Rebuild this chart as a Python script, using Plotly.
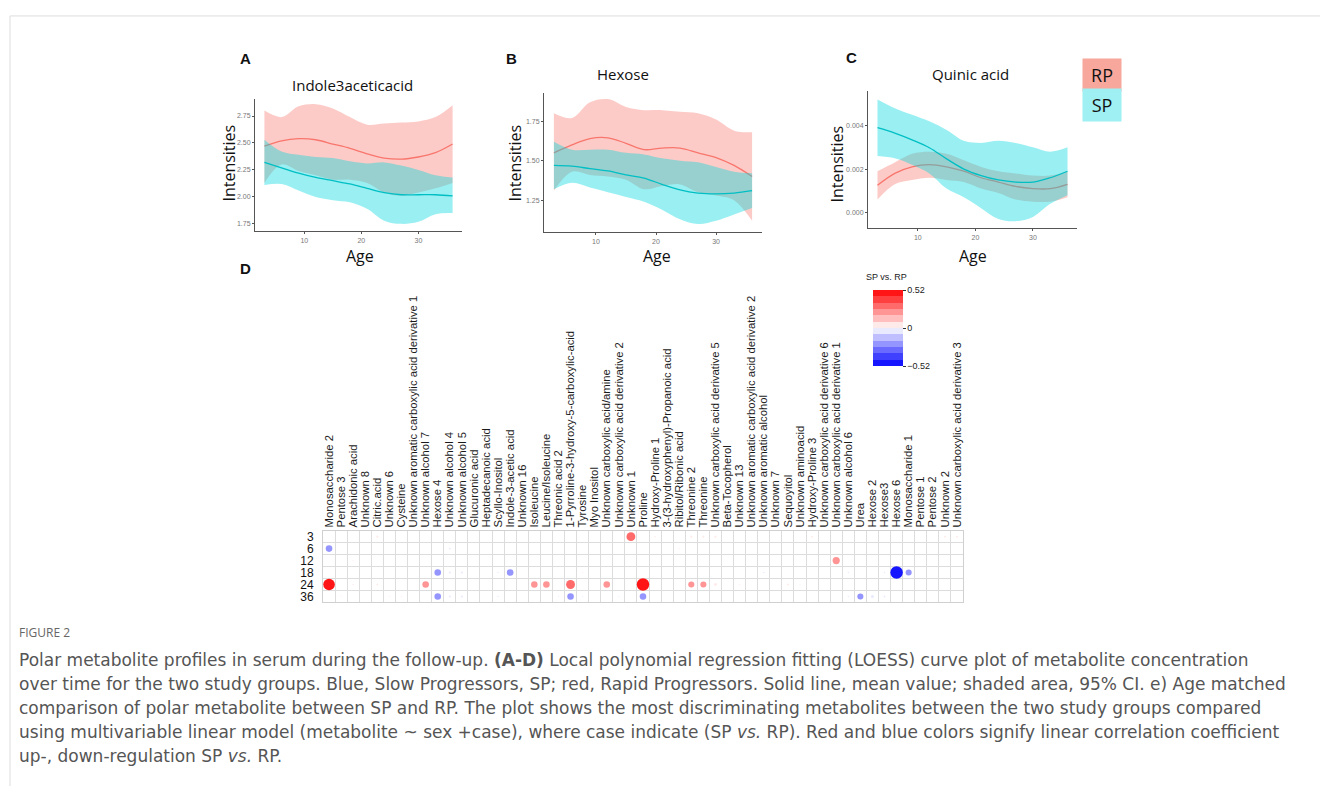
import plotly.graph_objects as go

W, H = 1320, 787
def fx(p): return p / W
def fy(p): return 1 - p / H

# ---------------- Data: LOESS curves (panels A-C) ----------------
age = [3, 6, 9, 12, 15, 18, 21, 24, 27, 30, 33, 36]

iaa_rp_mean  = [2.47, 2.52, 2.54, 2.53, 2.49, 2.45, 2.40, 2.36, 2.35, 2.37, 2.41, 2.49]
iaa_rp_upper = [2.80, 2.74, 2.84, 2.86, 2.82, 2.74, 2.67, 2.68, 2.69, 2.70, 2.74, 2.85]
iaa_rp_lower = [2.13, 2.30, 2.24, 2.20, 2.16, 2.16, 2.13, 2.04, 2.01, 2.04, 2.08, 2.13]
iaa_sp_mean  = [2.32, 2.27, 2.22, 2.18, 2.15, 2.12, 2.08, 2.04, 2.02, 2.02, 2.02, 2.01]
iaa_sp_upper = [2.53, 2.42, 2.39, 2.37, 2.36, 2.33, 2.31, 2.32, 2.29, 2.25, 2.20, 2.18]
iaa_sp_lower = [2.11, 2.12, 2.06, 2.00, 1.97, 1.95, 1.89, 1.78, 1.75, 1.77, 1.84, 1.85]

hex_rp_mean  = [1.55, 1.60, 1.64, 1.645, 1.61, 1.57, 1.58, 1.58, 1.55, 1.52, 1.47, 1.40]
hex_rp_upper = [1.80, 1.77, 1.87, 1.89, 1.84, 1.82, 1.82, 1.81, 1.80, 1.76, 1.69, 1.68]
hex_rp_lower = [1.31, 1.43, 1.41, 1.40, 1.38, 1.32, 1.34, 1.35, 1.30, 1.28, 1.25, 1.12]
hex_sp_mean  = [1.47, 1.465, 1.45, 1.435, 1.41, 1.39, 1.35, 1.315, 1.295, 1.29, 1.295, 1.31]
hex_sp_upper = [1.62, 1.57, 1.57, 1.57, 1.55, 1.54, 1.515, 1.50, 1.49, 1.46, 1.43, 1.42]
hex_sp_lower = [1.32, 1.36, 1.33, 1.30, 1.27, 1.24, 1.19, 1.13, 1.10, 1.12, 1.16, 1.20]

qa_rp_mean  = [0.00125, 0.0018, 0.0021, 0.0022, 0.0021, 0.0019, 0.0016, 0.0014, 0.0012, 0.0011, 0.0011, 0.0013]
qa_rp_upper = [0.0019, 0.0023, 0.0027, 0.0028, 0.0027, 0.0024, 0.0021, 0.0019, 0.0018, 0.0017, 0.0017, 0.0019]
qa_rp_lower = [0.0006, 0.0013, 0.0015, 0.0016, 0.0015, 0.0014, 0.0011, 0.0009, 0.0006, 0.0005, 0.0005, 0.0007]
qa_sp_mean  = [0.0039, 0.00365, 0.00334, 0.00298, 0.00247, 0.0020, 0.0017, 0.0015, 0.0014, 0.0014, 0.0016, 0.0019]
qa_sp_upper = [0.0052, 0.0048, 0.0045, 0.0042, 0.0038, 0.0033, 0.0032, 0.0033, 0.0032, 0.0030, 0.0028, 0.0030]
qa_sp_lower = [0.0026, 0.0025, 0.0022, 0.0018, 0.0011, 0.0007, 0.0002, -0.0003, -0.0004, -0.0002, 0.0004, 0.0008]

# ---------------- Data: panel D ----------------
metabolites = [
    "Monosaccharide 2", "Pentose 3", "Arachidonic acid", "Unknown 8", "Citric.acid",
    "Unknown 6", "Cysteine", "Unknown aromatic carboxylic acid derivative 1",
    "Unknown alcohol 7", "Hexose 4", "Unknown alcohol 4", "Unknown alcohol 5",
    "Glucuronic acid", "Heptadecanoic acid", "Scyllo-Inositol", "Indole-3-acetic acid",
    "Unknown 16", "Isoleucine", "Leucine/Isoleucine", "Threonic acid 2",
    "1-Pyrroline-3-hydroxy-5-carboxylic-acid", "Tyrosine", "Myo Inositol",
    "Unknown carboxylic acid/amine", "Unknown carboxylic acid derivative 2", "Unknown 1",
    "Proline", "Hydroxy-Proline 1", "3-(3-hydroxyphenyl)-Propanoic acid",
    "Ribitol/Ribonic acid", "Threonine 2", "Threonine",
    "Unknown carboxylic acid derivative 5", "Beta-Tocopherol", "Unknown 13",
    "Unknown aromatic carboxylic acid derivative 2", "Unknown aromatic alcohol",
    "Unknown 7", "Sequoyitol", "Unknown aminoacid", "Hydroxy-Proline 3",
    "Unknown carboxylic acid derivative 6", "Unknown carboxylic acid derivative 1",
    "Unknown alcohol 6", "Urea", "Hexose 2", "Hexose3", "Hexose 6", "Monosaccharide 1",
    "Pentose 1", "Pentose 2", "Unknown 2", "Unknown carboxylic acid derivative 3",
]
ages_d = ["3", "6", "12", "18", "24", "36"]

# coefficient per metabolite (1-based column -> value), absent = not shown
coef_3  = {5: 0.05, 26: 0.33, 28: 0.03, 31: 0.05, 32: 0.05, 33: 0.05, 41: 0.04, 52: 0.04, 53: 0.04}
coef_6  = {1: -0.22, 11: -0.04, 30: 0.02}
coef_12 = {3: 0.02, 43: 0.25}
coef_18 = {10: -0.22, 11: -0.05, 12: -0.05, 15: -0.03, 16: -0.22, 22: 0.02, 37: -0.03,
           44: -0.03, 47: -0.03, 48: -0.52, 49: -0.2}
coef_24 = {1: 0.47, 3: 0.03, 5: 0.04, 9: 0.22, 18: 0.22, 19: 0.22, 21: 0.33, 24: 0.22,
           27: 0.52, 31: 0.2, 32: 0.2, 33: 0.07, 35: 0.02, 39: 0.04, 40: 0.02}
coef_36 = {2: 0.02, 6: 0.02, 7: 0.02, 10: -0.22, 11: -0.05, 12: -0.05, 15: -0.03, 20: -0.02,
           21: -0.22, 22: -0.02, 25: -0.02, 27: -0.22, 44: -0.03, 45: -0.2, 46: -0.08, 47: -0.04}
coef_rows = [coef_3, coef_6, coef_12, coef_18, coef_24, coef_36]
cmax = 0.52

# ---------------- Styles ----------------
RP_LINE, SP_LINE = "#F8766D", "#00BFC4"
RP_FILL, SP_FILL = "rgba(248,118,109,0.38)", "rgba(0,214,220,0.40)"

fig = go.Figure()

panels = [
    dict(ax="", rp=(iaa_rp_lower, iaa_rp_upper, iaa_rp_mean), sp=(iaa_sp_lower, iaa_sp_upper, iaa_sp_mean),
         xd=(255, 462), yd=(98, 231), yr=[1.68, 2.91], tv=[1.75, 2.0, 2.25, 2.5, 2.75],
         tt=["1.75", "2.00", "2.25", "2.50", "2.75"]),
    dict(ax="2", rp=(hex_rp_lower, hex_rp_upper, hex_rp_mean), sp=(hex_sp_lower, hex_sp_upper, hex_sp_mean),
         xd=(544, 762), yd=(92, 232), yr=[1.046, 1.93], tv=[1.25, 1.5, 1.75],
         tt=["1.25", "1.50", "1.75"]),
    dict(ax="3", rp=(qa_rp_lower, qa_rp_upper, qa_rp_mean), sp=(qa_sp_lower, qa_sp_upper, qa_sp_mean),
         xd=(868, 1077), yd=(90, 228), yr=[-0.00073, 0.0056], tv=[0.0, 0.002, 0.004],
         tt=["0.000", "0.002", "0.004"]),
]

for p in panels:
    xa, ya = "x" + p["ax"], "y" + p["ax"]
    for (lo, up, mn), lc, fc in [(p["rp"], RP_LINE, RP_FILL), (p["sp"], SP_LINE, SP_FILL)]:
        fig.add_trace(go.Scatter(x=age, y=lo, mode="lines", line=dict(width=0, shape="spline"),
                                 xaxis=xa, yaxis=ya, showlegend=False, hoverinfo="skip"))
        fig.add_trace(go.Scatter(x=age, y=up, mode="lines", line=dict(width=0, shape="spline"),
                                 fill="tonexty", fillcolor=fc,
                                 xaxis=xa, yaxis=ya, showlegend=False, hoverinfo="skip"))
        fig.add_trace(go.Scatter(x=age, y=mn, mode="lines", line=dict(width=1.3, color=lc, shape="spline"),
                                 xaxis=xa, yaxis=ya, showlegend=False))
    axcommon = dict(showline=True, linecolor="#555", linewidth=1, ticks="outside", ticklen=2,
                    tickcolor="#555", tickfont=dict(size=7, color="#777", family="Liberation Sans"),
                    showgrid=False, zeroline=False)
    fig.update_layout(**{
        "xaxis" + p["ax"]: dict(domain=[fx(p["xd"][0]), fx(p["xd"][1])], anchor=ya,
                                range=[1.35, 37.65], tickvals=[10, 20, 30], **axcommon),
        "yaxis" + p["ax"]: dict(domain=[fy(p["yd"][1]), fy(p["yd"][0])], anchor=xa,
                                range=p["yr"], tickvals=p["tv"], ticktext=p["tt"], **axcommon),
    })

# ---------------- Panel D: dot matrix ----------------
bx, by = [], []
for a in ages_d:
    for m in metabolites:
        bx.append(m); by.append(a)
fig.add_trace(go.Scatter(x=bx, y=by, mode="markers", marker=dict(size=1, opacity=0),
                         xaxis="x4", yaxis="y4", showlegend=False, hoverinfo="skip"))

dx, dy, dv = [], [], []
for a, row in zip(ages_d, coef_rows):
    for col, v in row.items():
        dx.append(metabolites[col - 1]); dy.append(a); dv.append(v)
dsize = [12.5 * (abs(v) / cmax) ** 0.75 for v in dv]

nb = 12
def band_color(f):
    if f >= 0:
        c = int(round(255 * (1 - f)))
        return f"rgb(255,{c},{c})"
    c = int(round(255 * (1 + f)))
    return f"rgb({c},{c},255)"
cscale = []
for i in range(nb):
    lo, hi = i / nb, (i + 1) / nb
    center = (lo + hi) - 1
    col = band_color(center)
    cscale.append([lo, col]); cscale.append([hi, col])

fig.add_trace(go.Scatter(
    x=dx, y=dy, mode="markers", xaxis="x4", yaxis="y4", showlegend=False,
    marker=dict(size=dsize, color=dv, colorscale=cscale, cmin=-cmax, cmax=cmax,
                line=dict(width=0), opacity=1,
                colorbar=dict(x=fx(873), xanchor="left", y=fy(366), yanchor="bottom",
                              len=76, lenmode="pixels", thickness=30, thicknessmode="pixels",
                              xpad=0, ypad=0, outlinewidth=0,
                              tickvals=[-cmax, 0, cmax], ticktext=["\u22120.52", "0", "0.52"],
                              ticks="outside", ticklen=3, tickcolor="#333",
                              tickfont=dict(size=9, color="#222", family="Liberation Sans"))),
    hovertemplate="%{x}<br>Age %{y}<br>%{marker.color}<extra></extra>",
))

fig.update_layout(
    xaxis4=dict(domain=[fx(323), fx(963)], anchor="y4", type="category", side="top",
                categoryorder="array", categoryarray=metabolites,
                range=[-0.5, len(metabolites) - 0.5], autorange=False,
                tickmode="array", tickvals=metabolites, ticktext=metabolites,
                tickson="boundaries", tickangle=-90, ticks="", showgrid=True,
                gridcolor="#DCDCDC", gridwidth=1,
                showline=True, mirror=True, linecolor="#D0D0D0", zeroline=False,
                tickfont=dict(size=11.3, color="#1a1a1a", family="Liberation Sans")),
    yaxis4=dict(domain=[fy(603), fy(531)], anchor="x4", type="category",
                categoryorder="array", categoryarray=ages_d,
                range=[len(ages_d) - 0.5, -0.5], autorange=False,
                tickmode="array", tickvals=ages_d, ticktext=ages_d,
                tickson="boundaries", ticks="", showgrid=True, gridcolor="#DCDCDC", gridwidth=1,
                showline=True, mirror=True, linecolor="#D0D0D0", zeroline=False,
                ticklabelstandoff=6,
                tickfont=dict(size=12, color="#111", family="Liberation Sans")),
)

# ---------------- Annotations ----------------
ann = []
def A(text, x, y, size, color="#111", family="Open Sans", xanchor="center", yanchor="middle", **kw):
    ann.append(dict(text=text, x=fx(x), y=fy(y), xref="paper", yref="paper", showarrow=False,
                    xanchor=xanchor, yanchor=yanchor,
                    font=dict(size=size, color=color, family=family), **kw))

for letter, x, y in [("A", 245, 58), ("B", 511, 58), ("C", 851, 57), ("D", 245, 268)]:
    A(f"<b>{letter}</b>", x, y, 15, family="Liberation Sans")
for title, x in [("Indole3aceticacid", 353), ("Hexose", 623), ("Quinic acid", 970)]:
    A(title, x, 73 if title != "Indole3aceticacid" else 84, 15)
for x in [229, 515, 837]:
    A("Intensities", x, 163, 16, textangle=-90)
for x in [360, 657, 973]:
    A("Age", x, 256, 16)

A("SP vs. RP", 886, 277, 9, color="#222", family="Liberation Sans")

ann.append(dict(text="RP", x=fx(1102), y=fy(74), xref="paper", yref="paper", showarrow=False,
                width=36, height=30, bgcolor="#F8A79C", xanchor="center", yanchor="middle",
                font=dict(size=18, color="#111", family="Open Sans")))
ann.append(dict(text="SP", x=fx(1102), y=fy(104), xref="paper", yref="paper", showarrow=False,
                width=36, height=30, bgcolor="#9EF0F2", xanchor="center", yanchor="middle",
                font=dict(size=18, color="#111", family="Open Sans")))

A("FIGURE 2", 17, 633, 12, color="#666", xanchor="left")
cap = [
    "Polar metabolite profiles in serum during the follow-up. <b>(A-D)</b> Local polynomial regression fitting (LOESS) curve plot of metabolite concentration",
    "over time for the two study groups. Blue, Slow Progressors, SP; red, Rapid Progressors. Solid line, mean value; shaded area, 95% CI. e) Age matched",
    "comparison of polar metabolite between SP and RP. The plot shows the most discriminating metabolites between the two study groups compared",
    "using multivariable linear model (metabolite ~ sex +case), where case indicate (SP <i>vs.</i> RP). Red and blue colors signify linear correlation coefficient",
    "up-, down-regulation SP <i>vs.</i> RP.",
]
for i, line in enumerate(cap):
    A(line, 17, 661 + 24 * i, 17, color="#555", family="DejaVu Sans", xanchor="left")

fig.update_layout(
    width=W, height=H, autosize=False,
    margin=dict(l=0, r=0, t=0, b=0),
    paper_bgcolor="white", plot_bgcolor="white",
    annotations=ann,
    shapes=[
        dict(type="line", xref="paper", yref="paper", x0=fx(10), x1=1, y0=fy(15), y1=fy(15),
             line=dict(color="#DDDDDD", width=1)),
        dict(type="line", xref="paper", yref="paper", x0=fx(10), x1=fx(10), y0=fy(15), y1=0,
             line=dict(color="#DDDDDD", width=1)),
    ],
)

fig.write_html("out.html", config={"displayModeBar": False},
               post_script="document.body.style.margin='0px';document.body.style.overflow='hidden';")
